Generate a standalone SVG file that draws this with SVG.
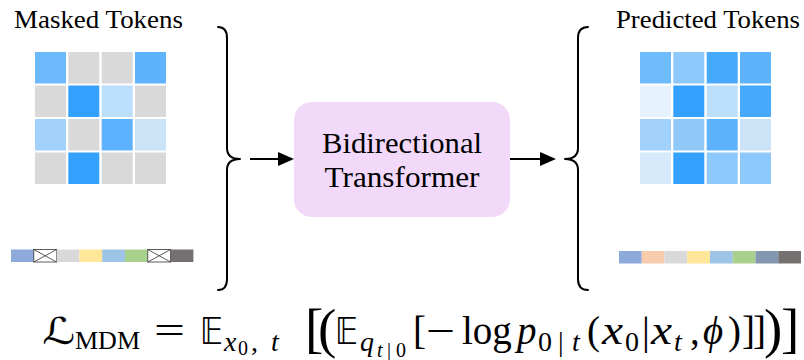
<svg xmlns="http://www.w3.org/2000/svg" width="804" height="360" viewBox="0 0 804 360">
<style>
.lbl{font-family:"Liberation Serif","Times New Roman",serif;fill:#000}
.r{font-family:"Liberation Serif","Times New Roman",serif;fill:#000}
.i{font-family:"Liberation Serif","Times New Roman",serif;font-style:italic;fill:#000}
.sym{font-family:"DejaVu Serif","DejaVu Sans",serif;fill:#000}
.bb{font-family:"DejaVu Sans","DejaVu Serif",sans-serif;fill:#000}
.m{font-size:39px}
.s{font-size:28px}
.ss{font-size:20px}
.big{font-size:55px}
.brace{fill:none;stroke:#000;stroke-width:2;stroke-linecap:round;stroke-linejoin:round}
.edge{stroke:#000;stroke-width:2;fill:none}
.xbox{fill:#fff;stroke:#333;stroke-width:0.8}
.xl{stroke:#333;stroke-width:0.8}
</style>
<defs>
<marker id="ah" viewBox="0 0 16 14" markerWidth="16" markerHeight="14" refX="0" refY="7" orient="auto" markerUnits="userSpaceOnUse">
<path d="M0,0 L16,7 L0,14 Z" fill="#000"/>
</marker>
</defs>
<rect width="804" height="360" fill="#fff"/>

<g id="masked-tokens">
<text class="lbl" x="14" y="28" font-size="25" textLength="169" lengthAdjust="spacingAndGlyphs">Masked Tokens</text>
<rect x="35" y="52" width="31" height="31.5" fill="#6cb9fb"/>
<rect x="68.3" y="52" width="31" height="31.5" fill="#d9d9d9"/>
<rect x="101.7" y="52" width="31" height="31.5" fill="#d9d9d9"/>
<rect x="135" y="52" width="31" height="31.5" fill="#5eb3fc"/>
<rect x="35" y="85.5" width="31" height="31.5" fill="#d9d9d9"/>
<rect x="68.3" y="85.5" width="31" height="31.5" fill="#33a1fd"/>
<rect x="101.7" y="85.5" width="31" height="31.5" fill="#badefc"/>
<rect x="135" y="85.5" width="31" height="31.5" fill="#d9d9d9"/>
<rect x="35" y="119" width="31" height="31.5" fill="#a2d2fc"/>
<rect x="68.3" y="119" width="31" height="31.5" fill="#d9d9d9"/>
<rect x="101.7" y="119" width="31" height="31.5" fill="#5eb1fc"/>
<rect x="135" y="119" width="31" height="31.5" fill="#cae3f7"/>
<rect x="35" y="152.5" width="31" height="31.5" fill="#d9d9d9"/>
<rect x="68.3" y="152.5" width="31" height="31.5" fill="#33a1fd"/>
<rect x="101.7" y="152.5" width="31" height="31.5" fill="#d9d9d9"/>
<rect x="135" y="152.5" width="31" height="31.5" fill="#d9d9d9"/>
</g>

<g id="masked-sequence">
<rect x="11" y="249.5" width="22.8" height="12.5" fill="#8eaadb"/>
<rect class="xbox" x="33.8" y="249.5" width="22.8" height="12.5"/>
<line class="xl" x1="33.8" y1="249.5" x2="56.6" y2="262"/>
<line class="xl" x1="33.8" y1="262" x2="56.6" y2="249.5"/>
<rect x="56.6" y="249.5" width="22.8" height="12.5" fill="#d9d9d9"/>
<rect x="79.4" y="249.5" width="22.8" height="12.5" fill="#ffe699"/>
<rect x="102.2" y="249.5" width="22.8" height="12.5" fill="#9dc3e6"/>
<rect x="125" y="249.5" width="22.8" height="12.5" fill="#a9d18e"/>
<rect class="xbox" x="147.8" y="249.5" width="22.8" height="12.5"/>
<line class="xl" x1="147.8" y1="249.5" x2="170.6" y2="262"/>
<line class="xl" x1="147.8" y1="262" x2="170.6" y2="249.5"/>
<rect x="170.6" y="249.5" width="22.8" height="12.5" fill="#767171"/>
</g>

<g id="left-brace">
<path class="brace" d="M218,27 Q227,27 227,38 L227,148 Q227,159 240,159 Q227,159 227,170 L227,279 Q227,290 218,290"/>
</g>

<g id="transformer">
<rect x="294" y="102" width="216" height="115" rx="18" ry="18" fill="#f2d9fa"/>
<text class="lbl" x="402" y="152.7" font-size="30" text-anchor="middle" textLength="160" lengthAdjust="spacingAndGlyphs">Bidirectional</text>
<text class="lbl" x="402" y="186.7" font-size="30" text-anchor="middle" textLength="155" lengthAdjust="spacingAndGlyphs">Transformer</text>
</g>

<g id="right-brace">
<path class="brace" d="M588,27 Q578,27 578,38 L578,148 Q578,159 565,159 Q578,159 578,170 L578,279 Q578,290 588,290"/>
</g>

<g id="predicted-tokens">
<text class="lbl" x="616" y="28" font-size="25" textLength="184" lengthAdjust="spacingAndGlyphs">Predicted Tokens</text>
<rect x="640" y="52" width="31" height="31.5" fill="#6ebbfb"/>
<rect x="673.3" y="52" width="31" height="31.5" fill="#8dc9fb"/>
<rect x="706.7" y="52" width="31" height="31.5" fill="#47a9fc"/>
<rect x="740" y="52" width="31" height="31.5" fill="#5eb3fc"/>
<rect x="640" y="85.5" width="31" height="31.5" fill="#e6f2fd"/>
<rect x="673.3" y="85.5" width="31" height="31.5" fill="#33a1fd"/>
<rect x="706.7" y="85.5" width="31" height="31.5" fill="#bcdffc"/>
<rect x="740" y="85.5" width="31" height="31.5" fill="#47a9fc"/>
<rect x="640" y="119" width="31" height="31.5" fill="#a2d2fb"/>
<rect x="673.3" y="119" width="31" height="31.5" fill="#90c8f7"/>
<rect x="706.7" y="119" width="31" height="31.5" fill="#5eb2fc"/>
<rect x="740" y="119" width="31" height="31.5" fill="#cce2f6"/>
<rect x="640" y="152.5" width="31" height="31.5" fill="#d6eafc"/>
<rect x="673.3" y="152.5" width="31" height="31.5" fill="#33a1fd"/>
<rect x="706.7" y="152.5" width="31" height="31.5" fill="#8dc9fb"/>
<rect x="740" y="152.5" width="31" height="31.5" fill="#8dc9fb"/>
</g>

<g id="predicted-sequence">
<rect x="619" y="251" width="22.75" height="12.5" fill="#8eaadb"/>
<rect x="641.75" y="251" width="22.75" height="12.5" fill="#f8cbad"/>
<rect x="664.5" y="251" width="22.75" height="12.5" fill="#d9d9d9"/>
<rect x="687.25" y="251" width="22.75" height="12.5" fill="#ffe699"/>
<rect x="710" y="251" width="22.75" height="12.5" fill="#9dc3e6"/>
<rect x="732.75" y="251" width="22.75" height="12.5" fill="#a9d18e"/>
<rect x="755.5" y="251" width="22.75" height="12.5" fill="#8497b0"/>
<rect x="778.25" y="251" width="22.75" height="12.5" fill="#767171"/>
</g>

<g id="connectors">
<line class="edge" x1="250" y1="159" x2="278" y2="159" marker-end="url(#ah)"/>
<line class="edge" x1="510" y1="159" x2="540" y2="159" marker-end="url(#ah)"/>
</g>

<g id="loss-formula">
<text class="sym" x="42" y="344" font-size="37" textLength="33" lengthAdjust="spacingAndGlyphs">ℒ</text>
<text class="r" x="75" y="349" font-size="26" textLength="65" lengthAdjust="spacingAndGlyphs">MDM</text>
<text class="r m" x="154" y="344" textLength="31" lengthAdjust="spacingAndGlyphs">=</text>
<text class="bb" x="200" y="344" font-size="37" textLength="23" lengthAdjust="spacingAndGlyphs">𝔼</text>
<text class="i s" x="224" y="351">x</text>
<text class="r ss" x="238" y="355">0</text>
<text class="r s" x="251" y="351">,</text>
<text class="i s" x="271" y="351">t</text>
<text class="r big" x="305" y="347">[</text>
<text class="r big" x="318" y="347">(</text>
<text class="bb" x="335" y="344" font-size="37" textLength="23" lengthAdjust="spacingAndGlyphs">𝔼</text>
<text class="i s" x="360" y="351">q</text>
<text class="i ss" x="377" y="357">t</text>
<text class="r ss" x="387" y="357">|</text>
<text class="r ss" x="396" y="357">0</text>
<text class="r m" x="413" y="344">[</text>
<text class="r m" x="426" y="344" textLength="29" lengthAdjust="spacingAndGlyphs">−</text>
<text class="r m" x="462" y="344">log</text>
<text class="i m" x="517" y="344">p</text>
<text class="r s" x="538" y="351">0</text>
<text class="r s" x="558" y="351">|</text>
<text class="i s" x="572" y="351">t</text>
<text class="r m" x="587" y="344">(</text>
<text class="i m" x="602" y="344" textLength="21" lengthAdjust="spacingAndGlyphs">x</text>
<text class="r s" x="625" y="351">0</text>
<text class="r m" x="642" y="344">|</text>
<text class="i m" x="651" y="344" textLength="21" lengthAdjust="spacingAndGlyphs">x</text>
<text class="i s" x="674" y="351">t</text>
<text class="r m" x="690" y="344">,</text>
<text class="i m" x="703" y="344">ϕ</text>
<text class="r m" x="728" y="344">)</text>
<text class="r m" x="742" y="344">]</text>
<text class="r m" x="753" y="344">]</text>
<text class="r big" x="764" y="347">)</text>
<text class="r big" x="781" y="347">]</text>
</g>
</svg>
